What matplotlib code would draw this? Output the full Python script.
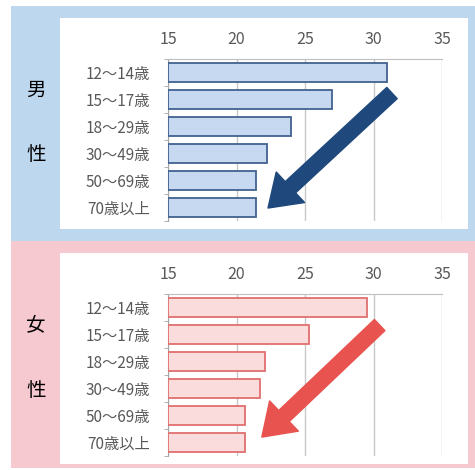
import matplotlib.pyplot as plt
from matplotlib.patches import Rectangle

plt.rcParams['font.family'] = ['Noto Sans CJK JP', 'DejaVu Sans']

# 年齢層
age_groups = ['12～14歳', '15～17歳', '18～29歳', '30～49歳', '50～69歳', '70歳以上']
male_values = [31.0, 27.0, 24.0, 22.2, 21.4, 21.4]
female_values = [29.5, 25.3, 22.1, 21.7, 20.6, 20.6]
x_ticks = [15, 20, 25, 30, 35]

W, H = 475, 470
fig = plt.figure(figsize=(W / 100, H / 100), dpi=100)


def px_rect(x0, y0, x1, y1, color):
    # ピクセル座標（左上原点）で背景の四角を描く
    fig.add_artist(Rectangle((x0 / W, 1 - y1 / H), (x1 - x0) / W, (y1 - y0) / H,
                             transform=fig.transFigure, facecolor=color,
                             edgecolor='none', zorder=0))


# 背景
px_rect(11, 6, 475, 241, '#bdd7ee')
px_rect(11, 241, 475, 468, '#f6c8cf')
px_rect(60, 18, 468, 229, 'white')
px_rect(60, 253, 468, 464, 'white')


def draw_panel(top_px, values, face, edge, arrow_color, arrow_from, arrow_to, labels):
    ax = fig.add_axes([168 / W, 1 - (top_px + 162) / H, 274 / W, 162 / H])
    ax.set_facecolor('none')
    y = list(range(len(age_groups)))
    ax.barh(y, [v - 15 for v in values], left=15, height=0.72,
            color=face, edgecolor=edge, linewidth=1.3, zorder=3)
    ax.set_xlim(15, 35)
    ax.set_ylim(5.5, -0.5)
    ax.set_xticks(x_ticks)
    ax.xaxis.tick_top()
    ax.set_yticks(y)
    ax.set_yticklabels(age_groups)
    ax.set_yticks([i - 0.5 for i in range(len(age_groups) + 1)], minor=True)
    ax.tick_params(axis='y', which='major', length=0, pad=13, labelsize=11, labelcolor='#595959')
    ax.tick_params(axis='y', which='minor', length=3, color='#a6a6a6')
    ax.tick_params(axis='x', length=0, pad=8, labelsize=11.5, labelcolor='#595959')
    ax.grid(axis='x', color='#c8c8c8', linewidth=1, zorder=0)
    for s in ['right', 'bottom']:
        ax.spines[s].set_visible(False)
    ax.spines['top'].set_color('#bfbfbf')
    ax.spines['left'].set_color('#a6a6a6')

    ax.annotate('', xy=arrow_to, xytext=arrow_from, annotation_clip=False,
                arrowprops=dict(arrowstyle='simple,head_width=1.5,head_length=1.1,tail_width=0.55',
                                mutation_scale=20, color=arrow_color, shrinkA=0, shrinkB=0),
                zorder=5)

    # 左側の「男性」「女性」
    for ch, cy in zip(labels, [top_px + 31, top_px + 96]):
        fig.text(36 / W, 1 - cy / H, ch, fontsize=14, ha='center', va='center', color='black')


draw_panel(59, male_values, '#c6d9f0', '#41628f', '#1f497d', (31.35, 0.76), (22.3, 5.02), '男性')
draw_panel(294, female_values, '#fbdcdc', '#e07070', '#e8534f', (30.45, 0.65), (21.85, 4.8), '女性')

fig.savefig('out.png', dpi=100)
